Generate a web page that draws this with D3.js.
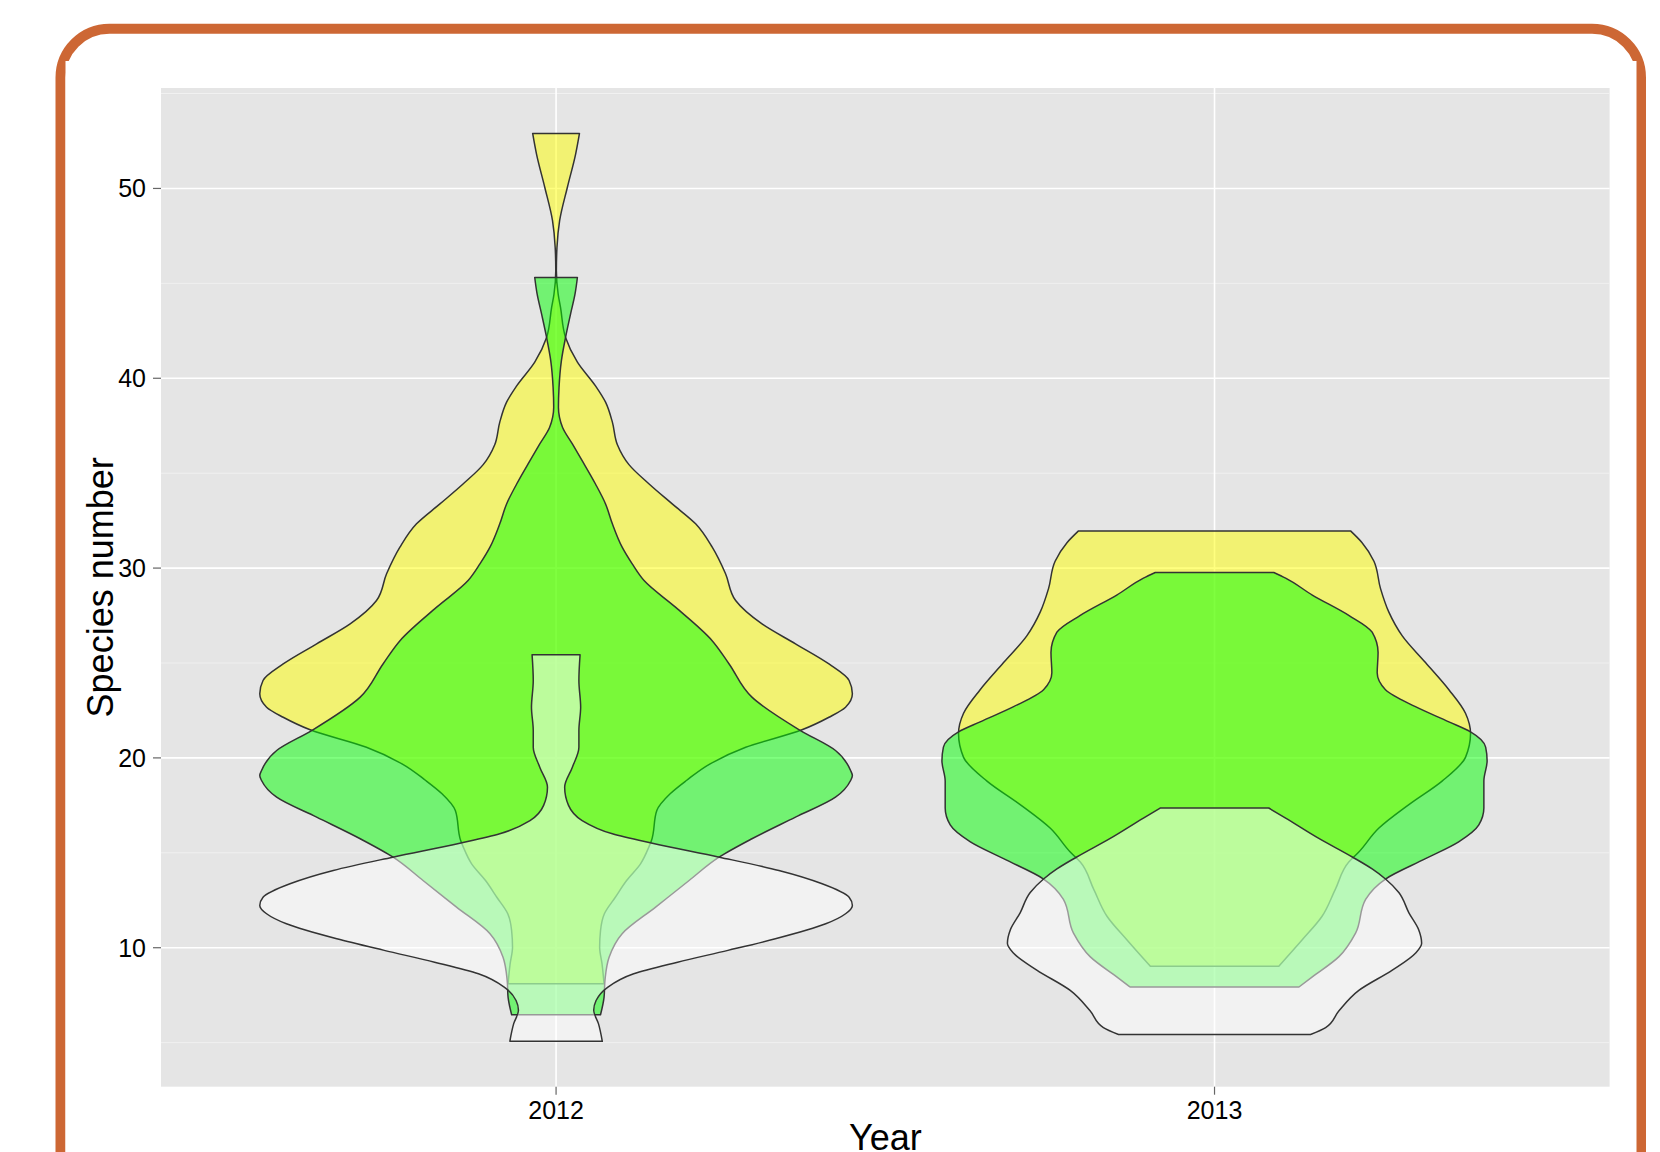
<!DOCTYPE html>
<html>
<head>
<meta charset="utf-8">
<script src="https://cdn.jsdelivr.net/npm/d3@7/dist/d3.min.js"></script>
<style>
body { margin: 0; background: #fff; }
text { font-family: "Liberation Sans", Arial, Helvetica, sans-serif; fill: #000; }
</style>
</head>
<body>
<div id="chartContainer"></div>
<script>
var years = ["2012", "2013"];
var fills = ["#FFFF00", "#00FF00", "#FFFFFF"];
var yTicks = [10, 20, 30, 40, 50];
var yMinor = [5, 15, 25, 35, 45, 55];

// violin outlines: [species number, half width relative to the widest violin]
var yellow2012 = [[52.90,.079],[51.81,.066],[50.05,.038],[48.30,.012],[46.89,.003],[45.67,.001],[44.44,.007],
	[43.73,.015],[42.15,.032],[40.85,.072],[39.60,.133],[38.74,.167],[37.69,.190],[36.50,.207],[35.45,.246],
	[34.43,.314],[33.38,.392],[32.33,.471],[31.10,.527],[29.70,.572],[28.29,.606],[27.06,.695],[26.01,.808],
	[24.95,.921],[24.08,.989],[23.38,1.0],[22.67,.977],[22.14,.921],[21.48,.830],[20.56,.640],[19.69,.520],
	[18.81,.440],[18.11,.385],[17.23,.340],[15.65,.322],[15.30,.313],[14.42,.285],[13.54,.238],[12.66,.200],
	[11.79,.163],[10.90,.150],[10.03,.147],[9.16,.155],[8.10,.162]];
var green2012 = [[45.31,.072],[44.44,.064],[43.39,.049],[42.15,.032],[40.93,.018],[39.52,.010],[38.47,.008],
	[37.41,.022],[36.54,.055],[35.66,.088],[34.43,.133],[33.38,.167],[32.33,.190],[31.10,.223],[30.22,.257],
	[29.34,.297],[27.94,.403],[26.19,.526],[24.95,.584],[23.20,.661],[21.44,.825],[20.39,.943],[19.34,.994],
	[19.07,1.0],[18.81,.994],[17.93,.943],[16.88,.808],[15.74,.661],[14.77,.550],[13.54,.449],[12.14,.336],
	[10.74,.223],[9.50,.179],[8.28,.165],[7.40,.162],[6.47,.150]];
var white2012 = [[25.44,.081],[24.08,.077],[22.67,.083],[21.44,.077],[20.56,.077],[19.51,.055],[18.46,.029],
	[17.50,.042],[16.70,.088],[16.00,.190],[15.50,.325],[14.77,.551],[14.07,.752],[13.37,.898],[12.66,.989],
	[12.23,1.0],[11.79,.977],[11.26,.910],[10.47,.740],[9.86,.580],[9.24,.410],[8.63,.262],[7.93,.175],
	[7.22,.135],[6.70,.127],[6.00,.143],[5.07,.156]];
var yellow2013 = [[31.96,.459],[31.34,.498],[30.36,.538],[28.93,.560],[27.69,.588],[26.44,.633],[25.02,.712],
	[23.59,.791],[22.35,.847],[21.28,.864],[20.03,.847],[18.78,.768],[17.54,.656],[16.29,.554],[15.04,.487],
	[14.51,.453],[13.09,.408],[11.66,.363],[10.42,.296],[9.03,.217]];
var green2013 = [[29.77,.200],[29.47,.240],[28.58,.330],[27.51,.453],[26.62,.532],[25.55,.552],[24.48,.549],
	[23.59,.577],[22.70,.678],[21.90,.791],[21.37,.864],[20.57,.915],[19.85,.920],[18.78,.909],[17.36,.909],
	[16.47,.892],[15.58,.824],[14.69,.712],[13.62,.577],[12.55,.510],[10.77,.476],[9.53,.420],[8.46,.330],
	[7.93,.285]];
var white2013 = [[17.36,.183],[16.83,.240],[15.76,.352],[14.78,.465],[14.15,.532],[13.62,.577],[12.91,.622],
	[11.84,.656],[10.95,.689],[10.24,.699],[9.71,.678],[8.82,.600],[7.75,.487],[6.68,.420],[5.79,.375],
	[5.43,.324]];

var violins = [
	{year: years[0], fill: fills[0], pts: yellow2012},
	{year: years[1], fill: fills[0], pts: yellow2013},
	{year: years[0], fill: fills[1], pts: green2012},
	{year: years[1], fill: fills[1], pts: green2013},
	{year: years[0], fill: fills[2], pts: white2012},
	{year: years[1], fill: fills[2], pts: white2013}
];

function getW(){ return 1660; }
function getH(){ return 1152; }
function getPanel(){
	return {"left": 161, "top": 88, "right": 1609.6, "bottom": 1086.7};
}

function drawFrame(svg){
	// orange rounded slide frame, the white content box cuts a notch into the corners
	svg.append("rect")
		.attr("x", 60.5).attr("y", 28.8)
		.attr("width", 1580.5).attr("height", 1400)
		.attr("rx", 49).attr("ry", 49)
		.style("fill", "none")
		.style("stroke", "#CD6734")
		.style("stroke-width", 10);
	svg.append("rect")
		.attr("x", 65.5).attr("y", 61)
		.attr("width", 1636.5 - 65.5).attr("height", 1200)
		.style("fill", "#fff");
}

function initChart(){
	var w = getW(), h = getH(), p = getPanel();
	var svg = d3.select("#chartContainer").append("svg")
		.attr("width", w).attr("height", h);

	svg.append("rect").attr("width", w).attr("height", h).style("fill", "#fff");
	drawFrame(svg);

	var all = [];
	violins.forEach(function(v){ all = all.concat(v.pts.map(function(d){ return d[0]; })); });
	var lo = d3.min(all), hi = d3.max(all), pad = (hi - lo) * 0.05;

	var y = d3.scaleLinear()
		.domain([lo - pad, hi + pad])
		.range([p.bottom, p.top]);

	var x = d3.scalePoint()
		.domain(years)
		.range([p.left, p.right])
		.padding(0.6);

	var halfW = d3.scaleLinear()
		.domain([0, 1])
		.range([0, x.step() * 0.45]);

	var g = svg.append("g");

	g.append("rect")
		.attr("x", p.left).attr("y", p.top)
		.attr("width", p.right - p.left).attr("height", p.bottom - p.top)
		.style("fill", "#E5E5E5");

	g.selectAll("line.minor")
		.data(yMinor.filter(function(d){ return y(d) >= p.top && y(d) <= p.bottom; }))
		.enter().append("line")
		.attr("class", "minor")
		.attr("x1", p.left).attr("x2", p.right)
		.attr("y1", function(d){ return y(d); })
		.attr("y2", function(d){ return y(d); })
		.style("stroke", "#F2F2F2")
		.style("stroke-width", 0.9);

	g.selectAll("line.majorY")
		.data(yTicks)
		.enter().append("line")
		.attr("class", "majorY")
		.attr("x1", p.left).attr("x2", p.right)
		.attr("y1", function(d){ return y(d); })
		.attr("y2", function(d){ return y(d); })
		.style("stroke", "#fff")
		.style("stroke-width", 1.6);

	g.selectAll("line.majorX")
		.data(years)
		.enter().append("line")
		.attr("class", "majorX")
		.attr("y1", p.top).attr("y2", p.bottom)
		.attr("x1", function(d){ return x(d); })
		.attr("x2", function(d){ return x(d); })
		.style("stroke", "#fff")
		.style("stroke-width", 1.6);

	g.selectAll("path.violin")
		.data(violins)
		.enter().append("path")
		.attr("class", "violin")
		.attr("d", function(v){
			var cx = x(v.year);
			return d3.area()
				.curve(d3.curveMonotoneY)
				.y(function(d){ return y(d[0]); })
				.x0(function(d){ return cx - halfW(d[1]); })
				.x1(function(d){ return cx + halfW(d[1]); })(v.pts);
		})
		.style("fill", function(v){ return v.fill; })
		.style("fill-opacity", 0.5)
		.style("stroke", "#333")
		.style("stroke-width", 1.5)
		.style("stroke-linejoin", "round");

	// axes
	var yAxis = svg.append("g");
	yAxis.selectAll("line")
		.data(yTicks).enter().append("line")
		.attr("x1", p.left - 8).attr("x2", p.left)
		.attr("y1", function(d){ return y(d); })
		.attr("y2", function(d){ return y(d); })
		.style("stroke", "#666").style("stroke-width", 1.2);
	yAxis.selectAll("text")
		.data(yTicks).enter().append("text")
		.attr("x", p.left - 15)
		.attr("y", function(d){ return y(d); })
		.attr("dy", "0.36em")
		.attr("text-anchor", "end")
		.style("font-size", "25px")
		.text(function(d){ return d; });

	var xAxis = svg.append("g");
	xAxis.selectAll("line")
		.data(years).enter().append("line")
		.attr("x1", function(d){ return x(d); })
		.attr("x2", function(d){ return x(d); })
		.attr("y1", p.bottom).attr("y2", p.bottom + 8)
		.style("stroke", "#666").style("stroke-width", 1.2);
	xAxis.selectAll("text")
		.data(years).enter().append("text")
		.attr("x", function(d){ return x(d); })
		.attr("y", 1118.7)
		.attr("text-anchor", "middle")
		.style("font-size", "25px")
		.text(function(d){ return d; });

	svg.append("text")
		.attr("transform", "translate(113," + ((p.top + p.bottom) / 2) + ") rotate(-90)")
		.attr("text-anchor", "middle")
		.style("font-size", "36px")
		.text("Species number");

	svg.append("text")
		.attr("x", (p.left + p.right) / 2)
		.attr("y", 1150)
		.attr("text-anchor", "middle")
		.style("font-size", "36px")
		.text("Year");
}

initChart();
</script>
</body>
</html>
